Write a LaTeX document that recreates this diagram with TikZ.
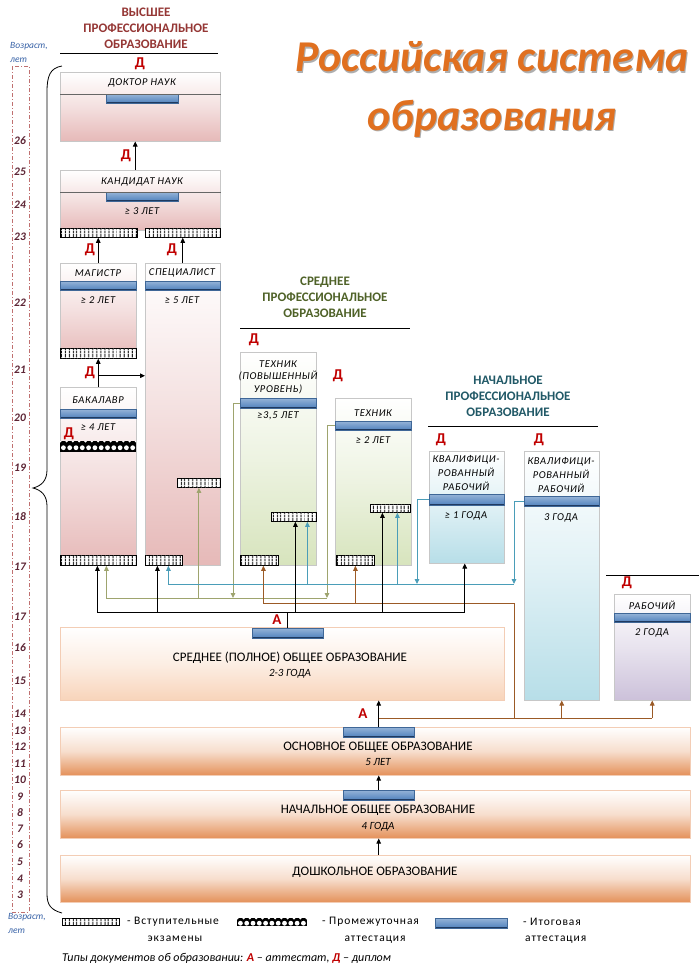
\documentclass[tikz,border=0pt]{standalone}
\usepackage{fontspec}
\setmainfont{Carlito}
\newfontfamily\spacedfont[LetterSpace=6]{Carlito}
\newfontfamily\legendfont[LetterSpace=8]{Carlito}
\usetikzlibrary{arrows.meta, positioning, calc, shadows, patterns.meta}

\definecolor{hred}{HTML}{953735}
\definecolor{dred}{HTML}{C00000}
\definecolor{hgreen}{HTML}{4F6228}
\definecolor{hteal}{HTML}{215967}
\definecolor{boxpink}{HTML}{E6B9B8}
\definecolor{boxgreen}{HTML}{D7E4BD}
\definecolor{boxblue}{HTML}{B7DEE8}
\definecolor{boxviolet}{HTML}{CCC1DA}
\definecolor{genorange}{HTML}{E4915A}
\definecolor{genlight}{HTML}{F8D4BA}
\definecolor{bartop}{HTML}{95B3D7}
\definecolor{barmid}{HTML}{4F81BD}
\definecolor{bardark}{HTML}{1F3A60}
\definecolor{lnolive}{HTML}{9EA46E}
\definecolor{lnteal}{HTML}{4A9DB8}
\definecolor{lnbrown}{HTML}{9B5A26}
\definecolor{agecol}{HTML}{5C2434}
\definecolor{ageblue}{HTML}{3A64A8}
\definecolor{agedash}{HTML}{C07070}
\definecolor{titleor}{HTML}{E07020}

\begin{document}
\begin{tikzpicture}[
        x=1pt, y=-1pt,
        tbox/.style={rectangle, anchor=north west, inner sep=0pt, draw=black!22, line width=0.5pt,
            drop shadow={shadow xshift=1.2pt, shadow yshift=-1.2pt, opacity=0.25}},
        hibox/.style={tbox, top color=white, bottom color=boxpink, middle color=boxpink!45},
        midbox/.style={tbox, top color=white, bottom color=boxgreen, middle color=boxgreen!45},
        lowbox/.style={tbox, top color=white, bottom color=boxblue, middle color=boxblue!45},
        wrkbox/.style={tbox, top color=white, bottom color=boxviolet, middle color=boxviolet!45},
        genbox/.style={tbox, draw=genorange!45, top color=white, bottom color=genorange, middle color=genorange!30},
        finbar/.style={rectangle, anchor=north west, inner sep=0pt, draw=barmid!80!black, line width=0.4pt,
            top color=bartop, bottom color=barmid,
            path picture={\draw[bardark, line width=2.4pt] (path picture bounding box.south west) -- (path picture bounding box.south east);}},
        exambar/.style={rectangle, anchor=north west, inner sep=0pt, draw=black, line width=0.8pt, fill=white,
            postaction={pattern={Lines[angle=90, distance=4pt, line width=1.4pt]}}},
        midbar/.style={rectangle, anchor=north west, inner sep=0pt, fill=black,
            path picture={\foreach \k in {0,...,12} {
                \fill[white] ([xshift=\k*6.3pt+3.2pt, yshift=-1pt]path picture bounding box.west) circle (2.4pt);
                \fill[white] ([xshift=\k*6.3pt+0.1pt]path picture bounding box.north west) circle (1.3pt);}}},
        lbl/.style={font=\spacedfont\fontsize{10.5}{13}\selectfont\itshape, align=center, inner sep=0pt},
        dip/.style={font=\fontsize{15}{15}\selectfont\bfseries, text=dred, inner sep=0pt},
        hdr/.style={font=\fontsize{13}{16}\selectfont\bfseries, align=center, inner sep=0pt},
        gen/.style={font=\fontsize{13}{14}\selectfont, inner sep=0pt},
        genit/.style={font=\fontsize{11}{12}\selectfont\itshape, inner sep=0pt},
        age/.style={font=\fontsize{11.5}{12}\selectfont\bfseries\itshape, text=agecol, inner sep=0pt},
        agelbl/.style={font=\fontsize{9.5}{10}\selectfont\itshape, text=ageblue, inner sep=0pt, anchor=west},
        ttl/.style={font=\fontsize{44}{50}\selectfont\bfseries\itshape, inner sep=0pt},
        leg/.style={font=\legendfont\fontsize{11.5}{12}\selectfont, inner sep=0pt},
        arr/.style={-{Triangle[length=5pt, width=4.5pt]}, line width=0.9pt},
        blkarr/.style={arr, black},
        olvarr/.style={arr, lnolive},
        tlarr/.style={arr, lnteal},
        brnarr/.style={arr, lnbrown},
        olvln/.style={lnolive, line width=0.9pt},
        tlln/.style={lnteal, line width=0.9pt},
        brnln/.style={lnbrown, line width=0.9pt},
        blkln/.style={black, line width=0.9pt}
    ]
    \fill[white] (0,0) rectangle (699,975);
    \useasboundingbox (0,0) rectangle (699,975);

    % title
    \node[ttl, text=black!70, opacity=0.45] (title-sh1) at (493.2,58.2) {Российская система};
    \node[ttl, text=titleor] (title1) at (492,57) {Российская система};
    \node[ttl, text=black!70, opacity=0.45] (title-sh2) at (493.2,119.7) {образования};
    \node[ttl, text=titleor] (title2) at (492,118.5) {образования};

    % age scale
    \draw[agedash, line width=0.7pt, dash pattern=on 4pt off 2pt on 1pt off 2pt] (12,66) rectangle (29,912);
    \node[agelbl] (age-top1) at (10,46) {Возраст,};
    \node[agelbl] (age-top2) at (10,60) {лет};
    \node[agelbl] (age-bot1) at (8,917) {Возраст,};
    \node[agelbl] (age-bot2) at (8,931) {лет};
    \foreach \a/\y [count=\i] in {26/141, 25/172, 24/205, 23/237, 22/303, 21/370, 20/418, 19/468,
        18/517, 17/567, 17/617, 16/648, 15/681, 14/714, 13/731, 12/747, 11/764, 10/780,
        9/797, 8/813, 7/829, 6/845, 5/862, 4/879, 3/895}
        \node[age] (age\i) at (20,\y) {\a};
    \draw[line width=0.8pt] (62,66) .. controls (50,68) and (47,76) .. (47,92) -- (47,470)
        .. controls (47,481) and (41,486) .. (33,488) .. controls (41,490) and (47,495) .. (47,506)
        -- (47,894) .. controls (47,905) and (51,910) .. (62,913);

    % section headers
    \node[hdr, text=hred] (hdr-high) at (146,28) {ВЫСШЕЕ\\ПРОФЕССИОНАЛЬНОЕ\\ОБРАЗОВАНИЕ};
    \draw[line width=0.8pt] (60,53) -- (218,53);
    \node[hdr, text=hgreen] (hdr-mid) at (325,297) {СРЕДНЕЕ\\ПРОФЕССИОНАЛЬНОЕ\\ОБРАЗОВАНИЕ};
    \draw[line width=0.8pt] (240,328) -- (410,328);
    \node[hdr, text=hteal] (hdr-low) at (508,396) {НАЧАЛЬНОЕ\\ПРОФЕССИОНАЛЬНОЕ\\ОБРАЗОВАНИЕ};
    \draw[line width=0.8pt] (428,426) -- (598,426);
    \draw[line width=0.8pt] (606,575) -- (699,575);

    % higher education
    \node[hibox, minimum width=160pt, minimum height=69pt] (doctor) at (60,72) {};
    \node[finbar, minimum width=72pt, minimum height=9pt] (dbar) at (106,94) {};
    \draw[black!60, line width=0.9pt] (doctor.west |- dbar.north) -- (doctor.east |- dbar.north);
    \node[lbl] (doctor-t) at (142,83) {ДОКТОР НАУК};
    \node[dip] (doctor-d) at (140,64) {Д};

    \node[hibox, minimum width=160pt, minimum height=60pt] (cand) at (60,170) {};
    \node[finbar, minimum width=72pt, minimum height=9pt] (cbar) at (106,192) {};
    \draw[black!60, line width=0.9pt] (cand.west |- cbar.north) -- (cand.east |- cbar.north);
    \node[lbl] (cand-t) at (142,182) {КАНДИДАТ НАУК};
    \node[lbl] (cand-y) at (142,211) {≥ 3 ЛЕТ};
    \node[dip] (cand-d) at (126,156) {Д};
    \node[exambar, minimum width=77pt, minimum height=9pt] (cex1) at (60,228) {};
    \node[exambar, minimum width=75pt, minimum height=9pt] (cex2) at (145,228) {};

    \node[hibox, minimum width=76pt, minimum height=95pt] (mag) at (60,263) {};
    \node[finbar, minimum width=76pt, minimum height=9pt] (mbar) at (60,281) {};
    \node[exambar, minimum width=76pt, minimum height=10pt] (mex) at (60,348) {};
    \node[lbl] (mag-t) at (98,273) {МАГИСТР};
    \node[lbl] (mag-y) at (98,300) {≥ 2 ЛЕТ};
    \node[dip] (mag-d) at (90,250) {Д};

    \node[hibox, minimum width=75pt, minimum height=302pt] (spec) at (145,263) {};
    \node[finbar, minimum width=75pt, minimum height=9pt] (spbar) at (145,281) {};
    \node[exambar, minimum width=43pt, minimum height=9pt] (siexam) at (177,478) {};
    \node[exambar, minimum width=37pt, minimum height=10pt] (sexam) at (145,555) {};
    \node[lbl] (spec-t) at (182,273) {СПЕЦИАЛИСТ};
    \node[lbl] (spec-y) at (182,300) {≥ 5 ЛЕТ};
    \node[dip] (spec-d) at (172,250) {Д};

    \node[hibox, minimum width=76pt, minimum height=178pt] (bak) at (60,387) {};
    \node[finbar, minimum width=76pt, minimum height=9pt] (bkbar) at (60,409) {};
    \node[midbar, minimum width=76pt, minimum height=11pt] (bkmid) at (60,441) {};
    \node[exambar, minimum width=76pt, minimum height=10pt] (bexam) at (60,555) {};
    \node[lbl] (bak-t) at (98,400) {БАКАЛАВР};
    \node[lbl] (bak-y) at (98,427) {≥ 4 ЛЕТ};
    \node[dip] (bak-d1) at (90,373) {Д};
    \node[dip] (bak-d2) at (69,434) {Д};

    % secondary vocational
    \node[midbox, minimum width=76pt, minimum height=213pt] (tadv) at (240,352) {};
    \node[finbar, minimum width=76pt, minimum height=10pt] (tabar) at (240,398) {};
    \node[exambar, minimum width=45pt, minimum height=9pt] (tiexam) at (271,512) {};
    \node[exambar, minimum width=38pt, minimum height=10pt] (taexam) at (240,555) {};
    \node[lbl, font=\spacedfont\fontsize{10.5}{12.5}\selectfont\itshape] (tadv-t) at (278,377) {ТЕХНИК\\(ПОВЫШЕННЫЙ\\УРОВЕНЬ)};
    \node[lbl] (tadv-y) at (278,416) {≥3,5 ЛЕТ};
    \node[dip] (tadv-d) at (254,340) {Д};

    \node[midbox, minimum width=76pt, minimum height=167pt] (tech) at (335,398) {};
    \node[finbar, minimum width=76pt, minimum height=9pt] (tbar) at (335,421) {};
    \node[exambar, minimum width=40pt, minimum height=8pt] (t2iexam) at (370,504) {};
    \node[exambar, minimum width=38pt, minimum height=10pt] (texam) at (336,555) {};
    \node[lbl] (tech-t) at (373,413) {ТЕХНИК};
    \node[lbl] (tech-y) at (373,440) {≥ 2 ЛЕТ};
    \node[dip] (tech-d) at (338,376) {Д};

    % initial vocational
    \node[lowbox, minimum width=75pt, minimum height=112pt] (kv1) at (429,451) {};
    \node[finbar, minimum width=75pt, minimum height=11pt] (kv1bar) at (429,494) {};
    \node[lbl, font=\spacedfont\fontsize{10.5}{14}\selectfont\itshape] (kv1-t) at (466,473) {КВАЛИФИЦИ-\\РОВАННЫЙ\\РАБОЧИЙ};
    \node[lbl] (kv1-y) at (466,516) {≥ 1 ГОДА};
    \node[dip] (kv1-d) at (441,440) {Д};

    \node[lowbox, minimum width=75pt, minimum height=249pt] (kv3) at (524,451) {};
    \node[finbar, minimum width=75pt, minimum height=10pt] (kv3bar) at (524,496) {};
    \node[lbl, font=\spacedfont\fontsize{10.5}{14}\selectfont\itshape] (kv3-t) at (561,475) {КВАЛИФИЦИ-\\РОВАННЫЙ\\РАБОЧИЙ};
    \node[lbl] (kv3-y) at (561,518) {3 ГОДА};
    \node[dip] (kv3-d) at (539,440) {Д};

    \node[wrkbox, minimum width=76pt, minimum height=106pt] (rab) at (614,594) {};
    \node[finbar, minimum width=76pt, minimum height=9pt] (rabbar) at (614,613) {};
    \node[lbl] (rab-t) at (652,605) {РАБОЧИЙ};
    \node[lbl] (rab-y) at (652,633) {2 ГОДА};
    \node[dip] (rab-d) at (627,583) {Д};

    % general education
    \node[genbox, top color=white, bottom color=genlight, middle color=genlight!40, minimum width=444pt, minimum height=73pt] (sred) at (60,627) {};
    \node[finbar, minimum width=71pt, minimum height=10pt] (sbar) at (252,628) {};
    \node[gen] (sred-t) at (290,658) {СРЕДНЕЕ (ПОЛНОЕ) ОБЩЕЕ ОБРАЗОВАНИЕ};
    \node[genit] (sred-y) at (290,674) {2-3 ГОДА};
    \node[dip] (sred-a) at (277,620) {А};

    \node[genbox, minimum width=630pt, minimum height=48pt] (osn) at (60,727) {};
    \node[finbar, minimum width=71pt, minimum height=10pt] (obar) at (343,727) {};
    \node[gen] (osn-t) at (378,747) {ОСНОВНОЕ ОБЩЕЕ ОБРАЗОВАНИЕ};
    \node[genit] (osn-y) at (378,762) {5 ЛЕТ};
    \node[dip] (osn-a) at (363,714) {А};

    \node[genbox, minimum width=630pt, minimum height=48pt] (nach) at (60,790) {};
    \node[finbar, minimum width=71pt, minimum height=10pt] (nbar) at (343,790) {};
    \node[gen] (nach-t) at (378,810) {НАЧАЛЬНОЕ ОБЩЕЕ ОБРАЗОВАНИЕ};
    \node[genit] (nach-y) at (378,827) {4 ГОДА};

    \node[genbox, minimum width=630pt, minimum height=47pt] (dosh) at (60,855) {};
    \node[gen] (dosh-t) at (375,872) {ДОШКОЛЬНОЕ ОБРАЗОВАНИЕ};

    % higher education links
    \draw[blkarr] ([xshift=-5pt]cand.north) -- ([xshift=-5pt]doctor.south);
    \draw[blkarr] (mag.north) -- (mag.north |- cex1.south);
    \draw[blkarr] (spec.north) -- (spec.north |- cex2.south);
    \draw[blkarr] (bak.north) -- (bak.north |- mex.south);
    \coordinate (bakjoin) at ($(bak.north)!0.4!(mex.south)$);
    \draw[blkarr] (bakjoin) -- (bakjoin -| spec.west);

    % olive: technician -> higher
    \coordinate (olv) at (0,598);
    \draw[olvarr] (tabar.west) -- ++(-7pt,0) coordinate (o1) -- (o1 |- olv);
    \draw[olvarr] (tbar.west) -- ++(-8pt,0) coordinate (o2) -- (o2 |- olv);
    \draw[olvln] ([xshift=8pt]bexam.south |- olv) -- (o2 |- olv);
    \draw[olvarr] ([xshift=8pt]bexam.south |- olv) -- ([xshift=8pt]bexam.south);
    \draw[olvarr] (siexam.south |- olv) -- (siexam.south);

    % teal: skilled worker -> further
    \coordinate (tl) at (0,584);
    \draw[tlarr] (kv1bar.west) -- ++(-12pt,0) coordinate (c1) -- (c1 |- tl);
    \draw[tlarr] (kv3bar.west) -- ++(-10pt,0) coordinate (c2) -- (c2 |- tl);
    \draw[tlln] ([xshift=4.5pt]sexam.south |- tl) -- (c2 |- tl);
    \draw[tlarr] ([xshift=4.5pt]sexam.south |- tl) -- ([xshift=4.5pt]sexam.south);
    \draw[tlarr] ([xshift=13.5pt]tiexam.south |- tl) -- ([xshift=13.5pt]tiexam.south);
    \draw[tlarr] ([xshift=7pt]t2iexam.south |- tl) -- ([xshift=7pt]t2iexam.south);

    % brown: basic general -> vocational
    \coordinate (br1) at (0,718);
    \coordinate (br2) at (0,603);
    \draw[brnln] (obar.north |- br1) -- (rab.south |- br1);
    \draw[brnarr] (rab.south |- br1) -- (rab.south);
    \draw[brnarr] (kv3.south |- br1) -- (kv3.south);
    \draw[brnln] (c2 |- br1) -- (c2 |- br2) -- ([xshift=4pt]taexam.south |- br2);
    \draw[brnarr] ([xshift=4pt]taexam.south |- br2) -- ([xshift=4pt]taexam.south);
    \draw[brnarr] (texam.south |- br2) -- (texam.south);

    % black: secondary general -> vocational and higher
    \coordinate (blk) at (0,612);
    \draw[blkln] (sbar.north) -- (sbar.north |- blk);
    \draw[blkln] ([xshift=-1pt]bexam.south |- blk) -- ([xshift=-2pt]kv1.south |- blk);
    \draw[blkarr] ([xshift=-1pt]bexam.south |- blk) -- ([xshift=-1pt]bexam.south);
    \draw[blkarr] ([xshift=-6.5pt]sexam.south |- blk) -- ([xshift=-6.5pt]sexam.south);
    \draw[blkarr] ([xshift=1.5pt]tiexam.south |- blk) -- ([xshift=1.5pt]tiexam.south);
    \draw[blkarr] ([xshift=-8pt]t2iexam.south |- blk) -- ([xshift=-8pt]t2iexam.south);
    \draw[blkarr] ([xshift=-2pt]kv1.south |- blk) -- ([xshift=-2pt]kv1.south);

    % general ladder
    \draw[blkarr] (obar.north) -- (obar.north |- sred.south);
    \draw[blkarr] (nbar.north) -- (nbar.north |- osn.south);
    \draw[blkarr] (dosh.north -| nbar.north) -- (nbar.north |- nach.south);

    % legend
    \node[exambar, minimum width=57pt, minimum height=7pt] (lg-ex) at (62,918) {};
    \node[leg, anchor=west] (lg-ex-t) at (127,922) {- Вступительные};
    \node[leg] (lg-ex-t2) at (175,939) {экзамены};
    \node[midbar, minimum width=70pt, minimum height=8pt] (lg-mid) at (237,918) {};
    \node[leg, anchor=west] (lg-mid-t) at (322,922) {- Промежуточная};
    \node[leg] (lg-mid-t2) at (375,940) {аттестация};
    \node[finbar, minimum width=72pt, minimum height=10pt] (lg-fin) at (435,918) {};
    \node[leg, anchor=west] (lg-fin-t) at (523,922) {- Итоговая};
    \node[leg, anchor=west] (lg-fin-t2) at (525,940) {аттестация};
    \node[genit, font=\fontsize{12}{13}\selectfont\itshape, anchor=west] (lg-docs) at (62,958)
        {Типы документов об образовании: {\bfseries\color{dred}А} – аттестат, {\bfseries\color{dred}Д} – диплом};
\end{tikzpicture}
\end{document}
